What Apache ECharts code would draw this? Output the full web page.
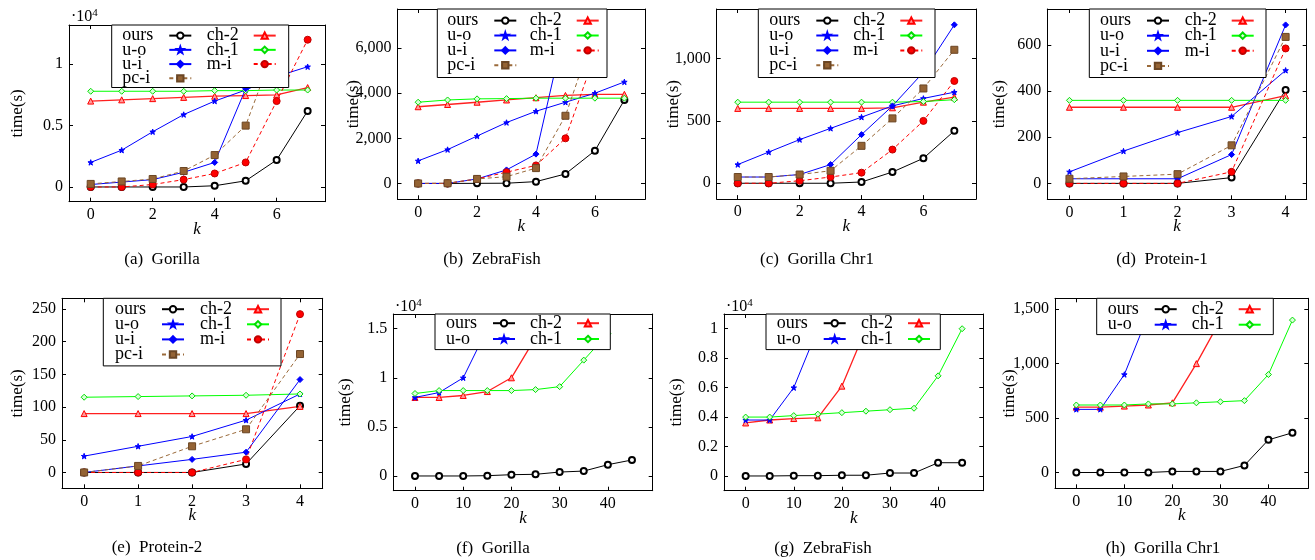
<!DOCTYPE html>
<html>
<head>
<meta charset="utf-8">
<script src="https://cdn.jsdelivr.net/npm/echarts@6/dist/echarts.min.js"></script>
<style>
  html, body { margin: 0; padding: 0; background: #fff; }
  #main { width: 1315px; height: 560px; }
</style>
</head>
<body>
<div id="main"></div>
<script>
// k values
const kSmall = [0, 1, 2, 3, 4, 5, 6, 7];
const kProt = [0, 1, 2, 3, 4];
const kLarge = [0, 5, 10, 15, 20, 25, 30, 35, 40, 45];

// (a) Gorilla
const oursA = [0, 0, 0, 0, 100, 500, 2200, 6200];
const uoA = [2000, 3000, 4500, 5900, 7000, 7900, 9000, 9800];
const uiA = [200, 400, 600, 1200, 2000, 8000, 11000];
const pciA = [250, 450, 650, 1300, 2600, 5000, 11800];
const ch2A = [7000, 7100, 7200, 7300, 7400, 7450, 7500, 8100];
const ch1A = [7800, 7800, 7800, 7800, 7850, 7850, 7900, 7900];
const miA = [0, 0, 200, 600, 1100, 2000, 7000, 12000];

// (b) ZebraFish
const oursB = [0, 0, 5, 10, 80, 420, 1450, 3700];
const uoB = [1000, 1500, 2100, 2700, 3200, 3600, 4000, 4500];
const uiB = [0, 0, 200, 600, 1300, 7030];
const pciB = [0, 10, 200, 300, 680, 3000, 6800];
const ch2B = [3400, 3500, 3600, 3700, 3800, 3900, 3950, 3950];
const ch1B = [3600, 3700, 3750, 3760, 3780, 3780, 3780, 3780];
const miB = [0, 0, 200, 500, 800, 2000, 5700];

// (c) Gorilla Chr1
const oursC = [0, 0, 0, 0, 10, 90, 200, 420];
const uoC = [150, 250, 350, 440, 530, 620, 680, 730];
const uiC = [50, 50, 70, 150, 390, 620, 890, 1270];
const pciC = [50, 50, 70, 100, 300, 520, 760, 1070];
const ch2C = [600, 600, 600, 600, 600, 605, 650, 690];
const ch1C = [650, 650, 650, 650, 650, 650, 655, 670];
const miC = [0, 0, 20, 50, 85, 270, 500, 820];

// (d) Protein-1
const oursD = [0, 0, 0, 25, 405];
const uoD = [50, 140, 220, 290, 490];
const uiD = [20, 20, 20, 125, 687];
const pciD = [20, 30, 40, 165, 635];
const ch2D = [330, 330, 330, 330, 380];
const ch1D = [360, 360, 360, 360, 360];
const miD = [0, 0, 0, 50, 585];

// (e) Protein-2
const oursE = [0, 0, 0, 13, 102];
const uoE = [25, 40, 55, 80, 120];
const uiE = [0, 10, 20, 31, 142];
const pciE = [0, 10, 40, 66, 181];
const ch2E = [90, 90, 90, 90, 101];
const ch1E = [115, 116, 117, 118, 120];
const miE = [0, 0, 0, 20, 242];

// (f) Gorilla, large k
const oursF = [0, 0, 0, 30, 130, 170, 400, 500, 1150, 1630];
const uoF = [8000, 8500, 10000, 15000];
const ch2F = [8000, 8000, 8200, 8600, 10000, 14100];
const ch1F = [8400, 8700, 8700, 8700, 8700, 8800, 9100, 11800, 14500];

// (g) ZebraFish, large k
const oursG = [0, 0, 20, 20, 50, 50, 200, 200, 900, 900];
const uoG = [3800, 3800, 6000, 10000];
const ch2G = [3600, 3800, 3900, 3950, 6100, 10000];
const ch1G = [4000, 4000, 4100, 4200, 4300, 4400, 4500, 4600, 6800, 10000];

// (h) Gorilla Chr1, large k
const oursH = [0, 0, 0, 0, 10, 10, 10, 65, 300, 365];
const uoH = [580, 580, 900, 1450];
const ch2H = [600, 600, 610, 620, 640, 1000, 1400];
const ch1H = [620, 620, 620, 630, 630, 640, 650, 660, 900, 1400];

// tick values
const xTicksSmall = [0, 2, 4, 6];
const xTicksProt = [0, 1, 2, 3, 4];
const xTicksLarge = [0, 10, 20, 30, 40];
const yTicksA = [0, 5000, 10000];
const yTicksB = [0, 2000, 4000, 6000];
const yTicksC = [0, 500, 1000];
const yTicksD = [0, 200, 400, 600];
const yTicksE = [0, 50, 100, 150, 200, 250];
const yTicksF = [0, 5000, 10000, 15000];
const yTicksG = [0, 2000, 4000, 6000, 8000, 10000];
const yTicksH = [0, 500, 1000, 1500];

const captions = ['(a)  Gorilla', '(b)  ZebraFish', '(c)  Gorilla Chr1', '(d)  Protein-1',
                  '(e)  Protein-2', '(f)  Gorilla', '(g)  ZebraFish', '(h)  Gorilla Chr1'];

const FONT = '"Liberation Serif", "DejaVu Serif", serif';
const TEXT_H = 18.2; // height of one legend row box at 18px
const ITEM_W = 42 + 5 + 22; // text box + gap + sample line

const STAR = 'path://M0,-10 L2.4,-3.1 L9.5,-3.1 L3.8,1.3 L5.9,8.1 L0,4 L-5.9,8.1 L-3.8,1.3 L-9.5,-3.1 L-2.4,-3.1 Z';

// look of each method
const look = {
  'ours': { line: '#000', symbol: 'emptyCircle', size: 6, fill: '#000', border: '#000' },
  'ch-2': { line: '#ff2020', symbol: 'triangle', size: 6, fill: '#ff9a9a', border: '#ff0000', lw: 1.3 },
  'u-o':  { line: '#0000ff', symbol: STAR, size: 5.5, fill: '#0000ff', border: '#0000ff' },
  'ch-1': { line: '#00ff00', symbol: 'diamond', size: 6, fill: '#d8ffd8', border: '#00dd00' },
  'u-i':  { line: '#0000ff', symbol: 'diamond', size: 6, fill: '#0000ff', border: '#0000ff' },
  'm-i':  { line: '#ff0000', symbol: 'circle', size: 7, fill: '#ff0000', border: '#c00000', dash: true },
  'pc-i': { line: '#9a6a3a', symbol: 'rect', size: 7, fill: '#946334', border: '#6b4624', dash: true }
};

const full = ['ours', 'ch-2', 'u-o', 'ch-1', 'u-i', 'm-i', 'pc-i'];
const short = ['ours', 'ch-2', 'u-o', 'ch-1'];

const sci = v => String(+(v / 10000).toFixed(2));
const comma = v => String(v).replace(/\B(?=(\d{3})+(?!\d))/g, ',');

// box: grid rect; lb: legend box; c1/c2: x of legend columns; rc: first row centre; pitch: row spacing
const panels = [
  { box: [69, 25, 256, 176.7], x: [-0.7, 7.56], y: [-1200, 13200], xt: xTicksSmall, yt: yTicksA, fmt: sci, ks: kSmall,
    data: [oursA, ch2A, uoA, ch1A, uiA, miA, pciA], names: full,
    lb: [111.7, 25, 176, 63.3], c1: 122.3, c2: 206.7, rc: 35.7, pitch: 14.45,
    nameGap: 43, cap: [162, 260], exp: [71, 17] },
  { box: [397.5, 9, 247.5, 190.3], x: [-0.7, 7.7], y: [-703, 7733], xt: xTicksSmall, yt: yTicksB, fmt: comma, ks: kSmall,
    data: [oursB, ch2B, uoB, ch1B, uiB, miB, pciB], names: full,
    lb: [437.3, 9, 168.7, 69.3], c1: 447.3, c2: 529.7, rc: 20.7, pitch: 15.1,
    nameGap: 35, cap: [492, 260] },
  { box: [716.7, 9, 259.3, 190.1], x: [-0.68, 7.7], y: [-127, 1397], xt: xTicksSmall, yt: yTicksC, fmt: comma, ks: kSmall,
    data: [oursC, ch2C, uoC, ch1C, uiC, miC, pciC], names: full,
    lb: [758.3, 9, 175.7, 69.3], c1: 769.3, c2: 853.3, rc: 20.7, pitch: 15.1,
    nameGap: 35, cap: [817, 260] },
  { box: [1047.3, 9, 259.4, 190.3], x: [-0.41, 4.39], y: [-69, 756], xt: xTicksProt, yt: yTicksD, fmt: comma, ks: kProt,
    data: [oursD, ch2D, uoD, ch1D, uiD, miD, pciD], names: full,
    lb: [1089.3, 9, 175.7, 69.3], c1: 1100, c2: 1184.7, rc: 20.7, pitch: 15.3,
    nameGap: 39, cap: [1162, 260] },
  { box: [62, 298.3, 260.7, 190], x: [-0.41, 4.42], y: [-24.2, 266.2], xt: xTicksProt, yt: yTicksE, fmt: comma, ks: kProt,
    data: [oursE, ch2E, uoE, ch1E, uiE, miE, pciE], names: full,
    lb: [103.3, 298.3, 176.7, 68.4], c1: 115, c2: 200, rc: 309.3, pitch: 15.3,
    nameGap: 36, cap: [157, 548] },
  { box: [393.3, 314, 259.4, 176.7], x: [-4.5, 49.3], y: [-1500, 16500], xt: xTicksLarge, yt: yTicksF, fmt: sci, ks: kLarge,
    data: [oursF, ch2F, uoF, ch1F], names: short,
    lb: [435, 314, 174.3, 36], c1: 446, c2: 530, rc: 323.3, pitch: 16,
    nameGap: 39, cap: [493, 549], exp: [395, 307] },
  { box: [724, 314, 259.3, 176.7], x: [-4.5, 49.4], y: [-1000, 11000], xt: xTicksLarge, yt: yTicksG, fmt: sci, ks: kLarge,
    data: [oursG, ch2G, uoG, ch1G], names: short,
    lb: [766, 314, 173.3, 36], c1: 776.7, c2: 861, rc: 323.3, pitch: 16,
    nameGap: 39, cap: [823, 549], exp: [726, 307] },
  { box: [1055, 298.3, 253.3, 190], x: [-4.44, 48.3], y: [-145, 1600], xt: xTicksLarge, yt: yTicksH, fmt: comma, ks: kLarge,
    data: [oursH, ch2H, uoH, ch1H], names: short,
    lb: [1096.7, 298.3, 175.6, 36.7], c1: 1107.7, c2: 1191.7, rc: 309.3, pitch: 15.7,
    nameGap: 37, cap: [1163, 549] }
];

const grid = [], xAxis = [], yAxis = [], series = [], legend = [], graphic = [];

const axisLine = { show: true, onZero: false, lineStyle: { color: '#000', width: 1 } };
const labelFont = { color: '#000', fontFamily: FONT, fontSize: 16 };

function legendColumn(names, p, first) {
  const col = {
    orient: 'vertical', data: names, selectedMode: false,
    itemWidth: 22, itemHeight: 8, itemGap: p.pitch - TEXT_H, align: 'right',
    textStyle: {
      color: '#000', fontFamily: FONT, fontSize: 18,
      rich: { t: { width: 42, align: 'left', color: '#000', fontFamily: FONT, fontSize: 18 } }
    },
    formatter: n => '{t|' + n + '}'
  };
  if (first) {
    // first column carries the framed white box of the whole legend
    const top = p.rc - TEXT_H / 2 - p.lb[1];
    const contentH = names.length * TEXT_H + (names.length - 1) * (p.pitch - TEXT_H);
    const left = p.c1 - p.lb[0];
    return Object.assign(col, {
      left: p.lb[0], top: p.lb[1],
      padding: [top, p.lb[2] - left - ITEM_W, p.lb[3] - top - contentH, left],
      backgroundColor: '#fff', borderColor: '#000', borderWidth: 1, borderRadius: 0, z: 6
    });
  }
  return Object.assign(col, { left: p.c2, top: p.rc - TEXT_H / 2, padding: 0, z: 7 });
}

panels.forEach((p, i) => {
  grid.push({ left: p.box[0], top: p.box[1], width: p.box[2], height: p.box[3] });

  const tickX = { show: true, inside: true, length: 4, customValues: p.xt, lineStyle: { color: '#000' } };
  const tickY = { show: true, inside: true, length: 4, customValues: p.yt, lineStyle: { color: '#000' } };

  xAxis.push({
    gridIndex: i, type: 'value', position: 'bottom', min: p.x[0], max: p.x[1],
    axisLine, axisTick: tickX, splitLine: { show: false },
    axisLabel: Object.assign({ customValues: p.xt, margin: 5 }, labelFont),
    name: 'k', nameLocation: 'middle', nameGap: 19, nameMoveOverlap: false,
    nameTextStyle: { color: '#000', fontFamily: FONT, fontSize: 17, fontStyle: 'italic' }
  });
  xAxis.push({
    gridIndex: i, type: 'value', position: 'top', min: p.x[0], max: p.x[1],
    axisLine, axisTick: tickX, splitLine: { show: false }, axisLabel: { show: false }
  });
  yAxis.push({
    gridIndex: i, type: 'value', position: 'left', min: p.y[0], max: p.y[1],
    axisLine, axisTick: tickY, splitLine: { show: false },
    axisLabel: Object.assign({ customValues: p.yt, margin: 6, formatter: p.fmt }, labelFont),
    name: 'time(s)', nameLocation: 'middle', nameGap: p.nameGap, nameMoveOverlap: false,
    nameTextStyle: { color: '#000', fontFamily: FONT, fontSize: 17 }
  });
  yAxis.push({
    gridIndex: i, type: 'value', position: 'right', min: p.y[0], max: p.y[1],
    axisLine, axisTick: tickY, splitLine: { show: false }, axisLabel: { show: false }
  });

  p.names.forEach((name, j) => {
    const s = look[name];
    const vals = p.data[j];
    series.push({
      name, type: 'line', xAxisIndex: 2 * i, yAxisIndex: 2 * i,
      data: vals.map((v, n) => [p.ks[n], v]),
      symbol: s.symbol, symbolSize: s.size, showSymbol: true, showAllSymbol: true,
      lineStyle: { color: s.line, width: s.lw || 1, type: s.dash ? [4, 3] : 'solid' },
      itemStyle: { color: s.fill, borderColor: s.border, borderWidth: 1 },
      emphasis: { disabled: true }, silent: true, clip: true
    });
  });

  legend.push(legendColumn(p.names.filter((n, j) => j % 2 === 0), p, true));
  legend.push(legendColumn(p.names.filter((n, j) => j % 2 === 1), p, false));

  graphic.push({
    type: 'text', x: p.cap[0], y: p.cap[1],
    style: { text: captions[i], fill: '#000', font: '17px ' + FONT, align: 'center', verticalAlign: 'middle' }
  });
  if (p.exp) {
    graphic.push({
      type: 'text', x: p.exp[0], y: p.exp[1],
      style: {
        text: '{a|·10}{b|4}', align: 'left', verticalAlign: 'middle',
        rich: {
          a: { fontFamily: FONT, fontSize: 16, fill: '#000', lineHeight: 18 },
          b: { fontFamily: FONT, fontSize: 11, fill: '#000', lineHeight: 11, verticalAlign: 'top' }
        }
      }
    });
  }
});

const chart = echarts.init(document.getElementById('main'));
chart.setOption({
  animation: false,
  backgroundColor: '#fff',
  grid, xAxis, yAxis, series, legend, graphic
});
window.addEventListener('resize', () => chart.resize());
</script>
</body>
</html>
